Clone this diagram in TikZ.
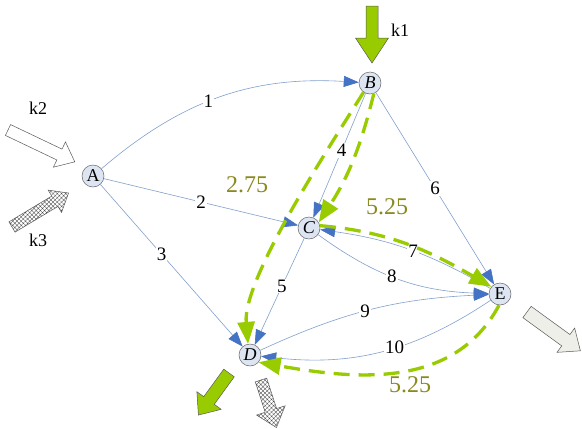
\documentclass[tikz,border=0pt]{standalone}
\usepackage{fontspec}
\setmainfont{Liberation Serif}
\usetikzlibrary{arrows.meta,patterns.meta}
\definecolor{edgeblue}{RGB}{130,160,205}
\definecolor{tipblue}{RGB}{68,114,196}
\definecolor{lgreen}{RGB}{153,204,0}
\definecolor{olivelab}{RGB}{138,138,30}
\definecolor{nodefill}{RGB}{222,229,242}
\definecolor{palegray}{RGB}{239,239,233}
% block arrow: options, tail x, tail y, angle, length, shaft width, head width, head length
\newcommand{\BlockArrow}[8]{%
  \begin{scope}[shift={(#2,#3)},rotate=#4]
    \draw[blockarrow,#1] (0,-#6/2) -- (#5-#8,-#6/2) -- (#5-#8,-#7/2) -- (#5,0)
      -- (#5-#8,#7/2) -- (#5-#8,#6/2) -- (0,#6/2) -- cycle;
  \end{scope}}
\begin{document}
\begin{tikzpicture}[x=1pt,y=1pt,
  vert/.style={circle,draw=black!60,line width=0.5pt,fill=nodefill,minimum size=22pt,inner sep=0pt,font=\fontsize{18}{18}\selectfont},
  link/.style={draw=edgeblue,line width=0.6pt,-{Triangle[length=15pt,width=11pt,color=tipblue]}},
  elabel/.style={fill=white,inner sep=1pt,font=\fontsize{19}{19}\selectfont},
  route/.style={draw=lgreen,line width=3.3pt,dash pattern=on 16pt off 9pt,-{Triangle[length=22pt,width=17pt]}},
  glabel/.style={text=olivelab,font=\fontsize{24}{24}\selectfont},
  klabel/.style={font=\fontsize{18}{18}\selectfont},
  blockarrow/.style={draw=black!65,line width=0.5pt,line join=miter},
  hatched/.style={preaction={fill=white},pattern={Hatch[angle=45,distance=3pt,line width=0.35pt]},pattern color=black!70}
]
\fill[white] (0,0) rectangle (582,-429);
\useasboundingbox (0,0) rectangle (582,-429);

% vertices
\node[vert] (A) at (93,-176) {A};
\node[vert] (B) at (370,-83) {\textit{B}};
\node[vert] (C) at (309,-228) {\textit{C}};
\node[vert] (D) at (250,-355) {\textit{D}};
\node[vert] (E) at (500,-294) {E};

% edges
\draw[link] (A) to[bend left=22] node[elabel,pos=0.45] {1} (B);
\draw[link] (A) -- node[elabel,pos=0.5] {2} (C);
\draw[link] (A) -- node[elabel,pos=0.43] {3} (D);
\draw[link] (B) -- node[elabel,pos=0.46] {4} (C);
\draw[link] (C) -- node[elabel,pos=0.45] {5} (D);
\draw[link] (B) -- node[elabel,pos=0.5] {6} (E);
\draw[link] (E) to[bend right=11] node[elabel,pos=0.47] {7} (C);
\draw[link] (C) to[bend right=17] node[elabel,pos=0.46] {8} (E);
\draw[link] (D) to[bend left=11] node[elabel,pos=0.47] {9} (E);
\draw[link] (E) to[bend left=20] node[elabel,pos=0.44] {10} (D);

% green routes
\draw[route] (B.235) to[out=238,in=95,looseness=0.6] (D.100);
\draw[route] (B.-70) to[out=-104,in=57] (C.30);
\draw[route] (C.12) to[out=-5,in=150] (E.140);
\draw[route] (E.-95) to[out=-118,in=-10] (D.-40);

\node[glabel] (g1) at (247,-185) {2.75};
\node[glabel] (g2) at (387,-207) {5.25};
\node[glabel] (g3) at (410,-385) {5.25};

% block arrows
\BlockArrow{fill=lgreen}{372}{-6}{-90}{57}{12}{33}{25}
\BlockArrow{fill=white}{8}{-130}{-25.5}{74}{12}{28}{17}
\BlockArrow{hatched}{12}{-227}{31}{66}{12}{26}{16}
\BlockArrow{fill=lgreen}{229}{-373}{-126}{52}{13}{30}{18}
\BlockArrow{hatched}{261}{-380}{-72}{50}{12}{30}{18}
\BlockArrow{fill=palegray}{527}{-312}{-36}{66}{14}{30}{18}

\node[klabel] (k1) at (400,-30) {k1};
\node[klabel] (k2) at (38,-108) {k2};
\node[klabel] (k3) at (38,-240) {k3};
\end{tikzpicture}
\end{document}
